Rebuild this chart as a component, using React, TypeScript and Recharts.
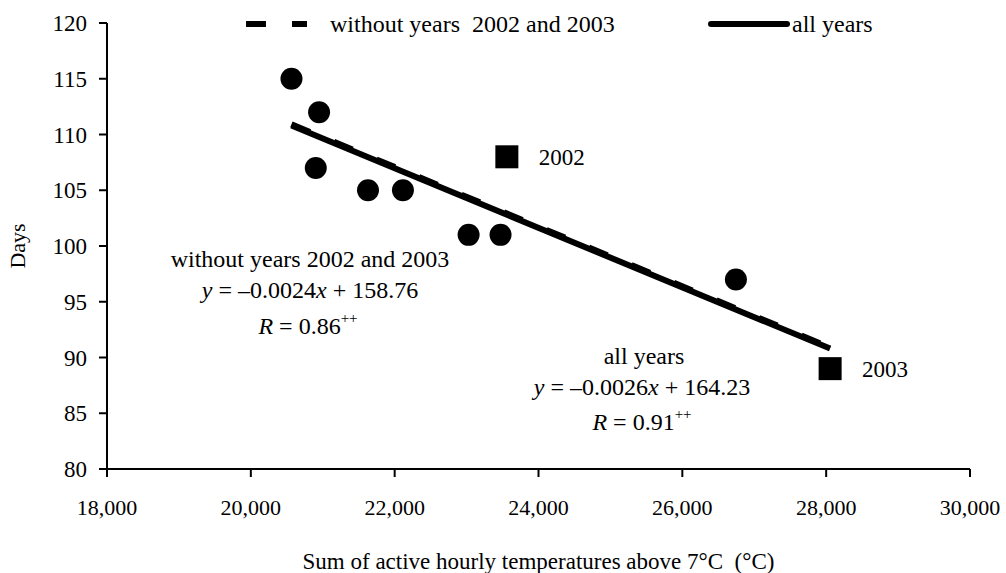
import { ScatterChart, Scatter, XAxis, YAxis, Legend, Customized } from "recharts";

const FONT = "Liberation Serif, Times New Roman, Times, serif";

// observed seasons (x: sum of active hourly temperatures, y: days)
const regularYears = [
  { x: 20565, y: 115 },
  { x: 20949, y: 112 },
  { x: 20903, y: 107 },
  { x: 21629, y: 105 },
  { x: 22115, y: 105 },
  { x: 23028, y: 101 },
  { x: 23472, y: 101 },
  { x: 26745, y: 97 },
];

const specialYears = [
  { x: 23560, y: 108, year: "2002" },
  { x: 28055, y: 89, year: "2003" },
];

// trend lines, end points
const trendAll = [
  { x: 20565, y: 110.8 },
  { x: 28055, y: 90.8 },
];

const trendWithout = [
  { x: 20565, y: 110.92 },
  { x: 27950, y: 91.18 },
];

const xTicks = [18000, 20000, 22000, 24000, 26000, 28000, 30000];
const yTicks = [80, 85, 90, 95, 100, 105, 110, 115, 120];

const txt = { fontFamily: FONT, fill: "#000" };

const Dot = (props: any) => <circle cx={props.cx} cy={props.cy} r={11} fill="#000" />;
const Box = (props: any) => (
  <g>
    <rect x={props.cx - 11.5} y={props.cy - 11.5} width={23} height={23} fill="#000" />
    <text x={props.cx + 32} y={props.cy + 8} style={{ ...txt, fontSize: 23 }}>
      {props.payload.year}
    </text>
  </g>
);
const NoShape = () => null;

function TopLegend() {
  return (
    <svg width={1006} height={40} style={{ position: "absolute", left: 0, top: 0 }}>
      <line x1={246} y1={24} x2={307} y2={24} stroke="#000" strokeWidth={6} strokeDasharray="20 26" />
      <text x={330} y={32} style={{ ...txt, fontSize: 24 }}>
        {"without years\u00A0 2002 and 2003"}
      </text>
      <line x1={711} y1={24} x2={787} y2={24} stroke="#000" strokeWidth={6} strokeLinecap="round" />
      <text x={792} y={32} style={{ ...txt, fontSize: 24 }}>
        all years
      </text>
    </svg>
  );
}

function Annotations() {
  const t = { style: { ...txt, fontSize: 24 }, textAnchor: "middle" as const };
  return (
    <g>
      <text x={310} y={267} {...t}>without years 2002 and 2003</text>
      <text x={310} y={298} {...t}>
        <tspan fontStyle="italic">y</tspan> = –0.0024<tspan fontStyle="italic">x</tspan> + 158.76
      </text>
      <text x={308} y={334} {...t}>
        <tspan fontStyle="italic">R</tspan> = 0.86
        <tspan dy={-11} fontSize={15}>++</tspan>
      </text>
      <text x={644} y={364} {...t}>all years</text>
      <text x={642} y={395} {...t}>
        <tspan fontStyle="italic">y</tspan> = –0.0026<tspan fontStyle="italic">x</tspan> + 164.23
      </text>
      <text x={642} y={430} {...t}>
        <tspan fontStyle="italic">R</tspan> = 0.91
        <tspan dy={-11} fontSize={15}>++</tspan>
      </text>
    </g>
  );
}

export default function App() {
  return (
    <div style={{ position: "absolute", left: 0, top: 0, width: 1006, height: 573, background: "#fff" }}>
      <ScatterChart width={1006} height={573} margin={{ top: 23, right: 36, left: 27, bottom: 0 }}>
        <XAxis
          type="number"
          dataKey="x"
          domain={[18000, 30000]}
          ticks={xTicks}
          tickFormatter={(v: number) => v.toLocaleString("en-US")}
          height={104}
          stroke="#000"
          strokeWidth={2}
          tickSize={8}
          tickMargin={22}
          tick={{ fill: "#000", fontSize: 22, fontFamily: FONT }}
          label={{
            value: "Sum of active hourly temperatures above 7°C\u00A0 (°C)",
            position: "insideBottom",
            offset: 4,
            style: { fill: "#000", fontSize: 23, fontFamily: FONT },
          }}
        />
        <YAxis
          type="number"
          dataKey="y"
          domain={[80, 120]}
          ticks={yTicks}
          width={80}
          stroke="#000"
          strokeWidth={2}
          tickSize={8}
          tickMargin={12}
          tick={{ fill: "#000", fontSize: 23, fontFamily: FONT }}
          label={{
            value: "Days",
            angle: -90,
            position: "insideLeft",
            offset: -10,
            style: { fill: "#000", fontSize: 22, fontFamily: FONT, textAnchor: "middle" },
          }}
        />
        <Legend content={() => <TopLegend />} wrapperStyle={{ top: 0, left: 0 }} />
        <Scatter
          name="all years"
          data={trendAll}
          line={{ stroke: "#000", strokeWidth: 6 }}
          shape={NoShape}
          isAnimationActive={false}
        />
        <Scatter
          name="without years 2002 and 2003"
          data={trendWithout}
          line={{ stroke: "#000", strokeWidth: 6, strokeDasharray: "20 26" }}
          shape={NoShape}
          isAnimationActive={false}
        />
        <Scatter data={regularYears} shape={Dot} isAnimationActive={false} />
        <Scatter data={specialYears} shape={Box} isAnimationActive={false} />
        <Customized component={Annotations} />
      </ScatterChart>
    </div>
  );
}
